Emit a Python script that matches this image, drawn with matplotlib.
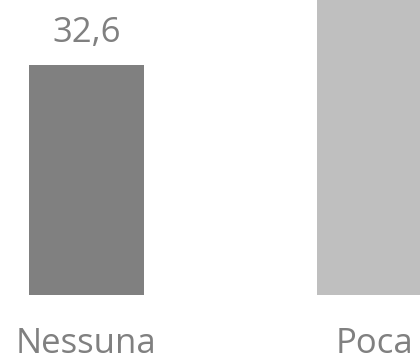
import matplotlib.pyplot as plt

# dati
categorie = ['Nessuna', 'Poca']
valori = [32.6, 48.0]
etichette = ['32,6', '48,0']
colori = ['#808080', '#bfbfbf']

plt.rcParams['font.family'] = ['Open Sans', 'DejaVu Sans']

fig = plt.figure(figsize=(4.2, 3.56), dpi=100)
ax = fig.add_axes([0, 61 / 356, 1, 295 / 356])

px_unit = 230 / 32.6   # pixel per unità
ymax = 295 / px_unit

x = list(range(len(categorie)))
ax.bar(x, valori, width=0.4, color=colori)

# etichette dei valori (solo quelle che restano dentro la figura)
for xi, v, t in zip(x, valori, etichette):
    if v + 45 / px_unit < ymax:
        ax.annotate(t, (xi, v), xytext=(0, 16.6), textcoords='offset points',
                    ha='center', va='baseline', fontsize=25, color='#808080')

# categorie sotto le barre
for xi, c in zip(x, categorie):
    ax.annotate(c, (xi, 0), xytext=(0, -41.8), textcoords='offset points',
                ha='center', va='baseline', fontsize=25, color='#808080',
                annotation_clip=False)

ax.set_xlim(-86.5 / 288, (420 - 86.5) / 288)
ax.set_ylim(0, ymax)
ax.set_xticks([])
ax.set_yticks([])
for s in ax.spines.values():
    s.set_visible(False)

fig.savefig('out.png', dpi=100)
